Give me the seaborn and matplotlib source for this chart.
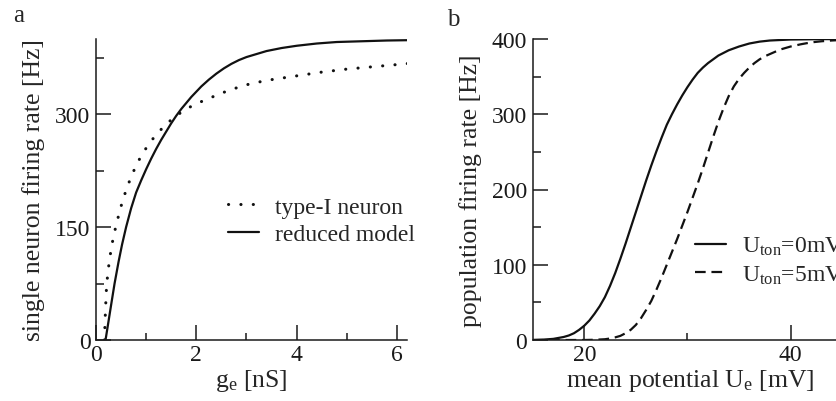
import matplotlib
matplotlib.use("Agg")
import matplotlib.pyplot as plt
from matplotlib.ticker import MultipleLocator, FixedLocator
import seaborn as sns
import pandas as pd

# ---- panel a: single neuron f-I curves ----
g_typeI = [0.17, 0.18, 0.19, 0.20, 0.21, 0.23, 0.26, 0.30, 0.35, 0.40, 0.46, 0.53,
           0.62, 0.72, 0.83, 0.95, 1.08, 1.23, 1.40, 1.60, 1.80, 2.00, 2.25, 2.50,
           2.75, 3.10, 3.50, 4.00, 4.50, 5.00, 5.50, 6.00, 6.30]
rate_typeI = [0, 25, 40, 58, 70, 85, 102, 120, 138, 152, 168, 185,
              203, 220, 236, 250, 263, 275, 287, 298, 307, 314, 321, 328,
              334, 341, 346, 351, 356, 360, 363, 366, 368]

g_reduced = [0.19, 0.25, 0.30, 0.37, 0.45, 0.52, 0.60, 0.70, 0.80, 0.90, 1.00, 1.10,
             1.20, 1.30, 1.40, 1.50, 1.60, 1.70, 1.80, 1.90, 2.00, 2.10, 2.25, 2.40,
             2.55, 2.70, 2.85, 3.00, 3.20, 3.40, 3.70, 4.00, 4.40, 4.80, 5.30, 5.80,
             6.30]
rate_reduced = [0, 25, 46, 75, 104, 127, 150, 175, 196, 212, 227, 241,
                254, 266, 277, 288, 298, 307, 315, 323, 330, 337, 346, 354,
                361, 367, 372, 376, 380, 384, 388, 391, 394, 396, 397, 398,
                398.5]

# ---- panel b: population transfer functions ----
U_0mV = [15.0, 16.0, 17.0, 18.0, 18.5, 19.0, 19.5, 20.0, 20.5, 21.0, 21.5, 22.0,
         22.5, 23.0, 23.5, 24.0, 24.5, 25.0, 25.5, 26.0, 26.5, 27.0, 27.5, 28.0,
         28.5, 29.0, 29.5, 30.0, 30.5, 31.0, 31.5, 32.0, 32.5, 33.0, 34.0, 35.0,
         36.0, 37.0, 38.0, 40.0, 43.0, 46.0]
rate_0mV = [0, 0.5, 1.5, 4, 6, 9, 13.5, 19, 26, 35, 45, 57,
            72, 89, 108, 128, 149, 170, 191, 212, 232, 251, 269, 286,
            300, 313, 325, 336, 346, 355, 362, 368, 373, 378, 385, 390,
            394, 396.5, 398, 399.3, 399.8, 400]

U_5mV = [15.0, 20.0, 21.0, 22.0, 22.5, 23.0, 23.5, 24.0, 24.5, 25.0, 25.5, 26.0,
         26.5, 27.0, 27.5, 28.0, 28.5, 29.0, 29.5, 30.0, 30.5, 31.0, 31.5, 32.0,
         32.5, 33.0, 33.5, 34.0, 34.5, 35.0, 35.5, 36.0, 36.5, 37.0, 37.5, 38.0,
         39.0, 40.0, 41.0, 42.0, 43.0, 44.0, 46.0]
rate_5mV = [0, 0, 0.3, 1, 2, 3.5, 5.5, 9, 13.5, 20, 29, 40,
            52, 67, 83, 100, 117, 134, 152, 170, 189, 208, 228, 249,
            270, 290, 308, 324, 337, 347, 355, 362, 368, 373, 377, 380,
            386, 390, 393, 395.5, 397, 398, 399.5]

sns.set_style("ticks")
plt.rcParams["font.family"] = ["Liberation Serif", "DejaVu Serif"]
plt.rcParams["mathtext.fontset"] = "custom"
plt.rcParams["mathtext.rm"] = "Liberation Serif"
plt.rcParams["mathtext.it"] = "Liberation Serif:italic"
plt.rcParams["axes.edgecolor"] = "#1a1a1a"
plt.rcParams["axes.linewidth"] = 1.1

FS = 17        # tick labels and legends
FS_LAB = 18.5  # axis labels
W, H = 837, 402
fig = plt.figure(figsize=(W / 100, H / 100), dpi=100)
fig.patch.set_facecolor("white")


def frac(x0, y0, x1, y1):
    return [x0 / W, 1 - y1 / H, (x1 - x0) / W, (y1 - y0) / H]


ax_a = fig.add_axes(frac(96, 40, 407, 341))
ax_b = fig.add_axes(frac(532.7, 40, 847.3, 341))

ink = "#111111"
dotted = (0, (0.05, 4.0))
dashed = (0, (4.8, 2.6))

df_t = pd.DataFrame({"g": g_typeI, "rate": rate_typeI})
df_r = pd.DataFrame({"g": g_reduced, "rate": rate_reduced})
sns.lineplot(data=df_t, x="g", y="rate", ax=ax_a, color=ink, lw=2.2,
             linestyle=dotted, dash_capstyle="round", sort=False,
             label="type-I neuron")
sns.lineplot(data=df_r, x="g", y="rate", ax=ax_a, color=ink, lw=1.6,
             sort=False, label="reduced model")

df_0 = pd.DataFrame({"U": U_0mV, "rate": rate_0mV})
df_5 = pd.DataFrame({"U": U_5mV, "rate": rate_5mV})
sns.lineplot(data=df_0, x="U", y="rate", ax=ax_b, color=ink, lw=1.6,
             sort=False, label=r"U$_{\rm ton}$=0mV")
sns.lineplot(data=df_5, x="U", y="rate", ax=ax_b, color=ink, lw=1.6,
             linestyle=dashed, sort=False, label=r"U$_{\rm ton}$=5mV")

for ax in (ax_a, ax_b):
    sns.despine(ax=ax)
    ax.set_facecolor("white")
    ax.tick_params(which="both", direction="in", colors="#1a1a1a",
                   labelcolor="#1a1a1a", labelsize=FS, top=False, right=False)
    ax.tick_params(which="major", length=10.8, width=1.1)
    ax.tick_params(which="minor", length=5.4, width=1.1)
    ax.tick_params(axis="y", pad=4)
    ax.tick_params(axis="x", pad=3)
    ax.grid(False)

ax_a.set_xlim(0, 6.2)
ax_a.set_ylim(0, 400)
ax_a.xaxis.set_major_locator(MultipleLocator(2))
ax_a.xaxis.set_minor_locator(MultipleLocator(1))
ax_a.yaxis.set_major_locator(FixedLocator([0, 150, 300]))
ax_a.yaxis.set_minor_locator(FixedLocator([75, 225, 375]))
ax_a.set_xlabel(r"g$_{\rm e}$ [nS]", fontsize=FS_LAB, labelpad=1)
ax_a.set_ylabel("single neuron firing rate [Hz]", fontsize=FS_LAB)
ax_a.yaxis.set_label_coords(-0.163, 0.5)

ax_b.set_xlim(15, 45.5)
ax_b.set_ylim(0, 400)
ax_b.xaxis.set_major_locator(MultipleLocator(20))
ax_b.xaxis.set_minor_locator(MultipleLocator(10))
ax_b.yaxis.set_major_locator(MultipleLocator(100))
ax_b.yaxis.set_minor_locator(MultipleLocator(50))
ax_b.set_xlabel(r"mean potential U$_{\rm e}$ [mV]", fontsize=FS_LAB, labelpad=1)
ax_b.set_ylabel("population firing rate [Hz]", fontsize=FS_LAB)
ax_b.yaxis.set_label_coords(-0.160, 0.5)

leg_kw = dict(frameon=False, fontsize=FS, handlelength=1.3, handletextpad=0.7,
              labelspacing=0.25, borderpad=0, borderaxespad=0, loc="upper left")
ax_a.legend(bbox_to_anchor=((228 - 96) / 311, (341 - 197) / 301), **leg_kw)
ax_b.legend(bbox_to_anchor=((695 - 532.7) / 314.6, (341 - 236) / 301), **leg_kw)

fig.text(13 / W, 1 - 22 / H, "a", fontsize=FS + 1, va="baseline", ha="left")
fig.text(447 / W, 1 - 26 / H, "b", fontsize=FS + 1, va="baseline", ha="left")

fig.savefig("out.png", dpi=100, facecolor="white")
